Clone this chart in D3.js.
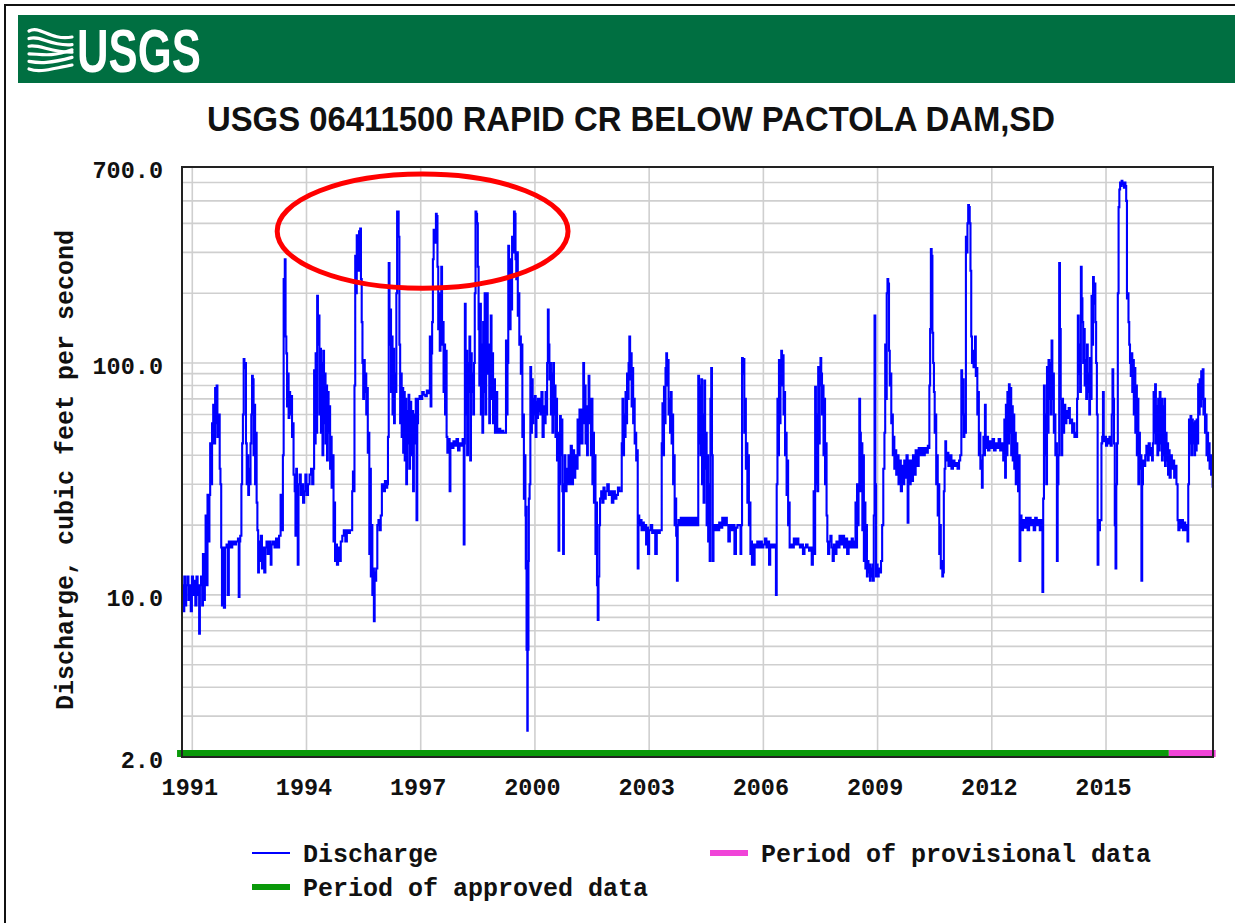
<!DOCTYPE html>
<html>
<head>
<meta charset="utf-8">
<script src="https://cdn.jsdelivr.net/npm/d3@7"></script>
<style>
  body { margin: 0; background: #fff; }
  svg { display: block; }
</style>
</head>
<body>
<script>
// daily discharge (cfs) as [decimal year, value]
const discharge = [
  [1990.74, 11], [1990.76, 8.5], [1990.79, 12], [1990.81, 9], [1990.84, 11], [1990.87, 12], [1990.9, 9.5], [1990.93, 11],
  [1990.96, 8.5], [1990.99, 12], [1991.02, 10], [1991.05, 11.5], [1991.08, 9], [1991.11, 12], [1991.14, 10], [1991.17, 11],
  [1991.18, 6.8], [1991.2, 11], [1991.23, 12], [1991.26, 9], [1991.28, 15], [1991.3, 9.5], [1991.33, 13], [1991.35, 22],
  [1991.37, 11], [1991.4, 27], [1991.42, 17], [1991.45, 27], [1991.47, 45], [1991.5, 30], [1991.52, 55], [1991.55, 66],
  [1991.57, 45], [1991.6, 78], [1991.62, 55], [1991.64, 80], [1991.66, 48], [1991.69, 60], [1991.72, 35], [1991.74, 30],
  [1991.76, 16], [1991.78, 9], [1991.8, 16], [1991.83, 8.8], [1991.86, 16], [1991.9, 16.5], [1991.93, 10], [1991.96, 17],
  [1992.0, 16], [1992.05, 17], [1992.1, 16.5], [1992.15, 17], [1992.2, 17.5], [1992.22, 9.8], [1992.24, 17],
  // 1992-1993
  [1992.26, 18], [1992.29, 30], [1992.31, 45], [1992.33, 60], [1992.35, 104], [1992.37, 95], [1992.39, 100], [1992.41, 45],
  [1992.43, 30], [1992.45, 40], [1992.47, 27], [1992.49, 35], [1992.51, 30], [1992.53, 45], [1992.55, 60], [1992.57, 88],
  [1992.59, 85], [1992.61, 40], [1992.63, 66], [1992.65, 30], [1992.67, 50], [1992.69, 25], [1992.71, 19], [1992.73, 12.5],
  [1992.75, 17], [1992.77, 14], [1992.8, 18], [1992.83, 13], [1992.86, 16], [1992.89, 12.5], [1992.92, 16], [1992.95, 17],
  [1992.98, 15], [1993.02, 17], [1993.06, 13.5], [1993.08, 16.5], [1993.12, 17], [1993.16, 16], [1993.2, 17.5], [1993.24, 16],
  [1993.28, 18], [1993.32, 27], [1993.35, 19], [1993.38, 40], [1993.4, 230], [1993.41, 140], [1993.43, 280], [1993.45, 130],
  [1993.47, 110], [1993.49, 65], [1993.51, 90], [1993.53, 58], [1993.55, 75], [1993.57, 60], [1993.6, 72], [1993.62, 48],
  [1993.64, 55], [1993.66, 33], [1993.69, 28], [1993.71, 18], [1993.73, 35], [1993.75, 27], [1993.77, 13.5], [1993.79, 30],
  [1993.82, 33], [1993.85, 27], [1993.88, 30], [1993.91, 25], [1993.94, 28], [1993.97, 33], [1994.0, 27], [1994.04, 30],
  [1994.08, 33], [1994.12, 35], [1994.15, 30],
  // 1994-1995
  [1994.18, 35], [1994.2, 93], [1994.22, 45], [1994.24, 110], [1994.26, 50], [1994.28, 195], [1994.3, 120], [1994.32, 160],
  [1994.34, 60], [1994.36, 115], [1994.38, 50], [1994.4, 100], [1994.42, 40], [1994.44, 113], [1994.46, 55], [1994.48, 90],
  [1994.5, 45], [1994.52, 80], [1994.54, 38], [1994.56, 75], [1994.58, 50], [1994.6, 65], [1994.62, 35], [1994.64, 48],
  [1994.66, 29], [1994.69, 40], [1994.71, 17], [1994.73, 25], [1994.75, 14], [1994.78, 16.5], [1994.8, 13.5], [1994.83, 16],
  [1994.86, 14], [1994.9, 17], [1994.94, 18], [1994.98, 19], [1995.02, 17], [1995.06, 19], [1995.1, 18.5], [1995.14, 19],
  [1995.18, 19], [1995.2, 28], [1995.22, 34], [1995.24, 28], [1995.26, 80], [1995.28, 290], [1995.3, 200], [1995.32, 355],
  [1995.35, 250], [1995.38, 370], [1995.41, 380], [1995.43, 230], [1995.45, 150], [1995.47, 100], [1995.49, 70], [1995.51, 103],
  [1995.53, 75], [1995.55, 90], [1995.57, 60], [1995.59, 78], [1995.61, 41], [1995.63, 50], [1995.65, 15], [1995.67, 35],
  [1995.69, 12], [1995.71, 20], [1995.73, 10], [1995.75, 13], [1995.77, 7.7], [1995.79, 12.5], [1995.81, 11.5], [1995.83, 13],
  [1995.86, 20], [1995.89, 21], [1995.92, 19], [1995.95, 22], [1995.98, 30], [1996.02, 28], [1996.06, 31], [1996.09, 29],
  // 1996-1997
  [1996.12, 30], [1996.14, 48], [1996.16, 270], [1996.18, 120], [1996.2, 170], [1996.22, 75], [1996.24, 130], [1996.26, 60],
  [1996.28, 115], [1996.3, 55], [1996.32, 90], [1996.34, 75], [1996.36, 200], [1996.38, 450], [1996.4, 450], [1996.42, 350],
  [1996.44, 120], [1996.46, 55], [1996.48, 90], [1996.5, 48], [1996.52, 78], [1996.54, 41], [1996.56, 75], [1996.58, 38],
  [1996.6, 70], [1996.62, 30], [1996.64, 62], [1996.66, 45], [1996.68, 73], [1996.7, 35], [1996.72, 68], [1996.75, 40],
  [1996.78, 62], [1996.8, 28], [1996.82, 60], [1996.84, 45], [1996.87, 70], [1996.89, 21], [1996.91, 55], [1996.93, 70],
  [1996.97, 72], [1997.0, 70], [1997.04, 75], [1997.08, 73], [1997.12, 72], [1997.16, 76], [1997.19, 74],
  [1997.22, 74], [1997.24, 130], [1997.26, 65], [1997.28, 110], [1997.3, 150], [1997.32, 280], [1997.34, 375], [1997.37, 330],
  [1997.4, 440], [1997.42, 430], [1997.44, 260], [1997.46, 140], [1997.48, 200], [1997.5, 113], [1997.52, 200], [1997.54, 260],
  [1997.56, 120], [1997.58, 150], [1997.6, 75], [1997.62, 120], [1997.64, 60], [1997.66, 113], [1997.68, 48], [1997.7, 41],
  [1997.73, 47], [1997.76, 28], [1997.78, 45], [1997.82, 43], [1997.86, 46], [1997.9, 44], [1997.94, 47], [1997.98, 42],
  [1998.02, 45], [1998.06, 44], [1998.1, 47], [1998.13, 16.5], [1998.15, 45],
  // 1998-1999
  [1998.16, 180], [1998.18, 60], [1998.2, 113], [1998.22, 40], [1998.24, 100], [1998.26, 75], [1998.28, 130], [1998.3, 38],
  [1998.32, 110], [1998.34, 75], [1998.36, 90], [1998.38, 60], [1998.4, 100], [1998.42, 200], [1998.44, 450], [1998.46, 440],
  [1998.48, 400], [1998.5, 260], [1998.52, 140], [1998.54, 80], [1998.56, 180], [1998.58, 60], [1998.6, 120], [1998.62, 50],
  [1998.64, 150], [1998.66, 75], [1998.68, 200], [1998.7, 60], [1998.72, 130], [1998.74, 200], [1998.76, 90], [1998.78, 120],
  [1998.8, 55], [1998.82, 100], [1998.84, 160], [1998.86, 70], [1998.88, 110], [1998.9, 55], [1998.92, 85], [1998.95, 50],
  [1998.98, 75], [1999.01, 50], [1999.05, 52], [1999.09, 50], [1999.13, 51], [1999.17, 50], [1999.2, 50],
  [1999.22, 50], [1999.24, 125], [1999.26, 60], [1999.28, 100], [1999.3, 320], [1999.32, 200], [1999.34, 140], [1999.36, 280],
  [1999.38, 170], [1999.4, 350], [1999.42, 300], [1999.45, 450], [1999.47, 440], [1999.49, 280], [1999.51, 230], [1999.53, 300],
  [1999.55, 160], [1999.57, 200], [1999.59, 120], [1999.61, 130], [1999.63, 90], [1999.65, 120], [1999.67, 48], [1999.69, 60],
  [1999.71, 26], [1999.73, 40], [1999.75, 22], [1999.76, 13], [1999.77, 24], [1999.78, 5.8], [1999.79, 13], [1999.8, 2.6],
  [1999.81, 8], [1999.82, 5.8], [1999.83, 14], [1999.84, 26], [1999.86, 30], [1999.88, 96], [1999.9, 50], [1999.92, 85],
  [1999.94, 55], [1999.96, 70], [1999.98, 60], [2000.0, 72], [2000.02, 48], [2000.04, 68], [2000.06, 58], [2000.08, 70],
  [2000.1, 62], [2000.12, 70],
  // 2000-2001
  [2000.14, 60], [2000.17, 75], [2000.2, 48], [2000.23, 65], [2000.26, 55], [2000.28, 75], [2000.3, 60], [2000.32, 100],
  [2000.34, 170], [2000.36, 120], [2000.38, 85], [2000.4, 100], [2000.42, 60], [2000.44, 90], [2000.46, 50], [2000.48, 100],
  [2000.5, 60], [2000.52, 80], [2000.54, 48], [2000.56, 70], [2000.58, 38], [2000.6, 50], [2000.62, 15.5], [2000.64, 30],
  [2000.66, 59], [2000.68, 40], [2000.7, 57], [2000.72, 28], [2000.74, 15], [2000.76, 30], [2000.78, 40], [2000.8, 28],
  [2000.83, 35], [2000.86, 30], [2000.88, 40], [2000.91, 30], [2000.94, 44], [2000.97, 30], [2001.0, 42], [2001.03, 32],
  [2001.06, 40], [2001.09, 35], [2001.12, 57], [2001.14, 40], [2001.17, 63], [2001.2, 45],
  [2001.22, 45], [2001.25, 63], [2001.27, 100], [2001.29, 55], [2001.31, 80], [2001.33, 45], [2001.35, 65], [2001.37, 40],
  [2001.39, 57], [2001.41, 88], [2001.43, 55], [2001.45, 70], [2001.47, 40], [2001.49, 70], [2001.51, 30], [2001.53, 50],
  [2001.55, 25], [2001.57, 40], [2001.59, 15], [2001.61, 25], [2001.63, 11], [2001.65, 7.8], [2001.67, 12], [2001.69, 20],
  [2001.71, 26], [2001.74, 28], [2001.77, 25], [2001.8, 29], [2001.83, 26], [2001.86, 28], [2001.9, 30], [2001.94, 27],
  [2001.98, 28], [2002.02, 25], [2002.06, 28], [2002.1, 26], [2002.14, 27], [2002.18, 29], [2002.22, 28],
  // 2002-2003
  [2002.26, 28], [2002.28, 45], [2002.3, 70], [2002.32, 40], [2002.34, 60], [2002.36, 48], [2002.38, 75], [2002.4, 55],
  [2002.42, 90], [2002.44, 70], [2002.46, 100], [2002.48, 130], [2002.5, 85], [2002.52, 110], [2002.54, 65], [2002.56, 95],
  [2002.58, 55], [2002.6, 70], [2002.62, 45], [2002.64, 50], [2002.66, 38], [2002.68, 42], [2002.7, 13], [2002.72, 22],
  [2002.74, 20], [2002.77, 21], [2002.8, 19], [2002.83, 20.5], [2002.86, 19], [2002.9, 20], [2002.92, 16.5], [2002.94, 19.5],
  [2002.97, 15], [2003.0, 19], [2003.04, 20], [2003.08, 18.5], [2003.12, 19], [2003.16, 15], [2003.2, 19], [2003.24, 18.5],
  [2003.28, 19], [2003.31, 19], [2003.33, 45], [2003.35, 67], [2003.37, 40], [2003.39, 79], [2003.41, 55], [2003.43, 95],
  [2003.45, 110], [2003.47, 80], [2003.49, 103], [2003.51, 60], [2003.53, 70], [2003.55, 50], [2003.57, 75], [2003.59, 45],
  [2003.61, 60], [2003.63, 30], [2003.65, 40], [2003.67, 20], [2003.69, 26], [2003.71, 18], [2003.73, 11.5], [2003.75, 20],
  [2003.77, 21], [2003.8, 20], [2003.83, 21.5], [2003.86, 20], [2003.9, 21.5], [2003.94, 20], [2003.98, 21.5], [2004.02, 20],
  [2004.06, 21.5], [2004.1, 20], [2004.14, 21.5], [2004.18, 20], [2004.22, 21.5], [2004.26, 20],
  // 2004-2005
  [2004.29, 88], [2004.31, 45], [2004.33, 80], [2004.35, 40], [2004.37, 85], [2004.39, 30], [2004.41, 60], [2004.43, 25],
  [2004.45, 84], [2004.47, 35], [2004.49, 50], [2004.51, 20], [2004.53, 40], [2004.55, 17], [2004.57, 30], [2004.59, 14],
  [2004.61, 70], [2004.63, 95], [2004.65, 40], [2004.67, 14], [2004.69, 20], [2004.72, 19], [2004.76, 20], [2004.8, 19],
  [2004.84, 20.5], [2004.88, 19.5], [2004.92, 21.5], [2004.96, 20], [2005.0, 21.5], [2005.04, 20], [2005.08, 17], [2005.12, 20],
  [2005.16, 19], [2005.2, 20], [2005.24, 15], [2005.28, 19.5], [2005.32, 20], [2005.36, 20], [2005.4, 15],
  [2005.42, 20], [2005.44, 105], [2005.46, 90], [2005.48, 104], [2005.5, 50], [2005.52, 70], [2005.54, 35], [2005.56, 45],
  [2005.58, 25], [2005.6, 40], [2005.62, 20], [2005.64, 25], [2005.66, 15], [2005.68, 17], [2005.7, 13.5], [2005.72, 16.5],
  [2005.74, 13.5], [2005.77, 16.5], [2005.8, 16], [2005.84, 17], [2005.88, 16], [2005.92, 17], [2005.96, 16], [2006.0, 16.5],
  [2006.04, 17.5], [2006.08, 16], [2006.12, 17], [2006.15, 13.5], [2006.18, 16.5], [2006.22, 16], [2006.26, 16.5], [2006.3, 16],
  // 2006-2007
  [2006.33, 10], [2006.35, 30], [2006.37, 70], [2006.39, 40], [2006.41, 103], [2006.43, 55], [2006.45, 90], [2006.47, 113],
  [2006.49, 80], [2006.51, 108], [2006.53, 60], [2006.55, 75], [2006.57, 40], [2006.59, 50], [2006.61, 27], [2006.63, 38],
  [2006.65, 20], [2006.67, 25], [2006.69, 16], [2006.72, 16.5], [2006.76, 16], [2006.8, 17.5], [2006.84, 16.5], [2006.88, 17.5],
  [2006.92, 16.5], [2006.96, 16], [2007.0, 16.5], [2007.04, 15], [2007.08, 16], [2007.12, 16.5], [2007.16, 16], [2007.2, 15.5],
  [2007.24, 16], [2007.27, 13.5], [2007.3, 16], [2007.32, 28], [2007.34, 15], [2007.36, 79], [2007.38, 30], [2007.4, 60],
  [2007.42, 28], [2007.44, 96], [2007.46, 45], [2007.48, 80], [2007.5, 105], [2007.52, 90], [2007.54, 60], [2007.56, 80],
  [2007.58, 40], [2007.6, 70], [2007.62, 30], [2007.64, 45], [2007.66, 22], [2007.68, 17], [2007.7, 15], [2007.73, 17],
  [2007.76, 18], [2007.79, 16], [2007.82, 14], [2007.85, 16.5], [2007.88, 15], [2007.92, 17], [2007.96, 16], [2008.0, 18],
  [2008.04, 16.5], [2008.08, 18], [2008.12, 16], [2008.16, 17.5], [2008.2, 15], [2008.24, 17], [2008.28, 16], [2008.32, 17.5],
  [2008.35, 16],
  // 2008-2009
  [2008.38, 16], [2008.4, 17], [2008.42, 25], [2008.44, 16], [2008.46, 30], [2008.48, 20], [2008.5, 28], [2008.52, 70],
  [2008.54, 50], [2008.56, 28], [2008.58, 45], [2008.6, 19], [2008.62, 40], [2008.64, 14], [2008.66, 25], [2008.68, 13],
  [2008.7, 20], [2008.72, 12], [2008.74, 14], [2008.76, 12.5], [2008.78, 13.5], [2008.8, 11.5], [2008.82, 13], [2008.84, 12],
  [2008.86, 13.5], [2008.88, 11.5], [2008.9, 22], [2008.92, 160], [2008.94, 30], [2008.96, 12], [2008.98, 13.5], [2009.0, 12],
  [2009.03, 13], [2009.06, 12.5], [2009.09, 14], [2009.12, 20], [2009.15, 35], [2009.18, 50], [2009.2, 120], [2009.22, 70],
  [2009.24, 200], [2009.26, 230], [2009.28, 220], [2009.3, 113], [2009.32, 80], [2009.34, 90], [2009.36, 55], [2009.38, 60],
  [2009.4, 40], [2009.42, 48], [2009.44, 35], [2009.46, 42], [2009.49, 33], [2009.52, 40], [2009.55, 30], [2009.58, 38],
  [2009.61, 28], [2009.64, 36], [2009.67, 30], [2009.7, 38], [2009.73, 32], [2009.76, 40], [2009.79, 20.5], [2009.81, 38],
  [2009.84, 30], [2009.87, 38], [2009.9, 31], [2009.93, 40], [2009.96, 33], [2010.0, 42], [2010.04, 36], [2010.08, 43],
  [2010.12, 40], [2010.16, 43], [2010.2, 40], [2010.24, 43], [2010.28, 41], [2010.32, 44],
  // 2010-2011
  [2010.34, 43], [2010.36, 80], [2010.38, 140], [2010.4, 310], [2010.42, 290], [2010.44, 135], [2010.46, 100], [2010.48, 75],
  [2010.5, 50], [2010.52, 60], [2010.54, 30], [2010.56, 40], [2010.58, 22], [2010.6, 30], [2010.62, 15], [2010.64, 20],
  [2010.66, 13], [2010.68, 14], [2010.7, 12], [2010.72, 12.5], [2010.74, 28], [2010.76, 35], [2010.78, 46], [2010.8, 38],
  [2010.83, 41], [2010.86, 36], [2010.9, 40], [2010.94, 35], [2010.98, 38], [2011.02, 36], [2011.06, 37], [2011.1, 35],
  [2011.14, 38], [2011.17, 40], [2011.2, 93], [2011.22, 60], [2011.24, 85], [2011.26, 48], [2011.28, 60], [2011.3, 50],
  [2011.32, 350], [2011.34, 300], [2011.36, 400], [2011.38, 480], [2011.4, 470], [2011.42, 400], [2011.44, 250], [2011.46, 130],
  [2011.48, 100], [2011.5, 113], [2011.52, 96], [2011.54, 110], [2011.56, 130], [2011.58, 88], [2011.6, 95], [2011.62, 60],
  [2011.64, 75], [2011.66, 40], [2011.68, 50], [2011.7, 35], [2011.72, 38], [2011.74, 29], [2011.76, 40],
  [2011.78, 48], [2011.8, 40], [2011.82, 66], [2011.84, 43], [2011.87, 48], [2011.9, 42], [2011.94, 46], [2011.98, 43],
  [2012.02, 47], [2012.06, 42], [2012.1, 45], [2012.14, 43], [2012.18, 47], [2012.22, 42], [2012.26, 45], [2012.3, 38],
  [2012.33, 57], [2012.35, 32], [2012.37, 66], [2012.39, 40], [2012.41, 75], [2012.43, 45], [2012.45, 81], [2012.47, 50],
  [2012.49, 78], [2012.51, 40], [2012.53, 65], [2012.55, 38], [2012.57, 60], [2012.59, 35], [2012.61, 50], [2012.63, 30],
  [2012.65, 45], [2012.67, 35], [2012.69, 28], [2012.71, 40], [2012.73, 14], [2012.75, 22], [2012.78, 19], [2012.82, 21],
  [2012.86, 19.5], [2012.9, 21.5], [2012.94, 19], [2012.98, 21.5], [2013.02, 20], [2013.06, 21], [2013.1, 19], [2013.14, 21.5],
  [2013.18, 20], [2013.22, 21], [2013.26, 19], [2013.3, 21],
  // 2013-2014
  [2013.33, 10.3], [2013.35, 26], [2013.37, 80], [2013.39, 40], [2013.41, 60], [2013.43, 30], [2013.45, 96], [2013.47, 50],
  [2013.49, 103], [2013.51, 70], [2013.53, 100], [2013.55, 60], [2013.57, 125], [2013.59, 70], [2013.61, 90], [2013.63, 50],
  [2013.65, 60], [2013.67, 40], [2013.69, 45], [2013.71, 14], [2013.73, 30], [2013.75, 40], [2013.77, 270], [2013.79, 140],
  [2013.81, 70], [2013.83, 40], [2013.85, 70], [2013.87, 50], [2013.9, 66], [2013.93, 55], [2013.96, 62], [2013.99, 58],
  [2014.02, 64], [2014.05, 55], [2014.08, 57], [2014.11, 50], [2014.14, 55], [2014.17, 48],
  [2014.2, 50], [2014.22, 48], [2014.24, 70], [2014.26, 160], [2014.28, 90], [2014.3, 120], [2014.32, 75], [2014.34, 260],
  [2014.36, 190], [2014.38, 150], [2014.4, 100], [2014.42, 140], [2014.44, 80], [2014.46, 103], [2014.48, 70], [2014.5, 120],
  [2014.52, 75], [2014.54, 90], [2014.56, 60], [2014.58, 105], [2014.6, 70], [2014.62, 195], [2014.64, 120], [2014.66, 235],
  [2014.68, 180], [2014.7, 220], [2014.72, 150], [2014.74, 100], [2014.76, 60], [2014.78, 13.5], [2014.8, 21], [2014.82, 19],
  [2014.84, 21],
  // 2015-2017
  [2014.88, 45], [2014.9, 48], [2014.92, 75], [2014.94, 46], [2014.97, 48], [2015.0, 44], [2015.03, 47], [2015.06, 45],
  [2015.09, 48], [2015.12, 44], [2015.15, 60], [2015.17, 94], [2015.19, 70], [2015.21, 45], [2015.23, 20], [2015.25, 13],
  [2015.27, 30], [2015.29, 45], [2015.31, 200], [2015.33, 470], [2015.35, 560], [2015.37, 600], [2015.39, 580], [2015.41, 610],
  [2015.43, 590], [2015.45, 600], [2015.47, 570], [2015.49, 600], [2015.51, 580], [2015.53, 500], [2015.55, 190], [2015.57, 200],
  [2015.59, 150], [2015.61, 120], [2015.63, 100], [2015.65, 88], [2015.67, 110], [2015.69, 75], [2015.71, 103], [2015.73, 60],
  [2015.75, 95], [2015.77, 50], [2015.79, 80], [2015.81, 40], [2015.83, 70], [2015.85, 30], [2015.87, 50], [2015.89, 35],
  [2015.91, 40], [2015.93, 11.5], [2015.95, 30], [2015.97, 38], [2016.0, 36], [2016.03, 40], [2016.06, 44], [2016.09, 38],
  [2016.12, 45], [2016.15, 40], [2016.18, 43], [2016.21, 38], [2016.23, 45], [2016.25, 75], [2016.27, 50], [2016.29, 81],
  [2016.31, 45], [2016.33, 65], [2016.35, 40], [2016.37, 70], [2016.39, 42], [2016.41, 75], [2016.43, 45], [2016.45, 70],
  [2016.47, 38], [2016.49, 65], [2016.51, 40], [2016.53, 70], [2016.55, 36], [2016.57, 50], [2016.59, 38], [2016.61, 45],
  [2016.63, 33], [2016.65, 42], [2016.67, 32], [2016.7, 40], [2016.73, 35], [2016.76, 38], [2016.79, 32], [2016.82, 36],
  [2016.85, 30], [2016.88, 21], [2016.9, 19], [2016.93, 21], [2016.96, 19.5], [2016.99, 21], [2017.02, 19], [2017.05, 20.5],
  [2017.08, 19], [2017.11, 20], [2017.14, 17], [2017.16, 30], [2017.18, 57], [2017.2, 45], [2017.22, 59], [2017.24, 40],
  [2017.26, 57], [2017.28, 45], [2017.3, 55], [2017.32, 40], [2017.34, 56], [2017.36, 42], [2017.38, 57], [2017.4, 45],
  [2017.42, 81], [2017.44, 60], [2017.46, 85], [2017.48, 65], [2017.5, 92], [2017.52, 70], [2017.54, 94], [2017.56, 60],
  [2017.58, 70], [2017.6, 50], [2017.62, 60], [2017.64, 40], [2017.66, 50], [2017.68, 38], [2017.7, 45], [2017.72, 35],
  [2017.74, 40], [2017.76, 33], [2017.78, 36], [2017.8, 29]
];

const yearDomain = [1990.73, 2017.81];
const approvedPeriod = [1990.6, 2016.65];
const provisionalPeriod = [2016.65, 2017.88];
const yTickValues = [2, 10, 100, 700];
const yGridValues = [3, 4, 5, 6, 7, 8, 9, 10, 20, 30, 40, 50, 60, 70, 80, 90, 100, 200, 300, 400, 500, 600];
const xTickValues = [1991, 1994, 1997, 2000, 2003, 2006, 2009, 2012, 2015];
// years / discharge range circled in red on the original
const circledYears = [1993.23, 2000.87];
const circledValues = [210, 653];

const titleText = "USGS 06411500 RAPID CR BELOW PACTOLA DAM,SD";
const yLabel = "Discharge, cubic feet per second";

const width = 1235;
const height = 923;
const plot = { left: 182, right: 1213, top: 167, bottom: 757 };
const mono = "'Liberation Mono', 'DejaVu Sans Mono', monospace";
const narrow = "'Liberation Sans Narrow', 'Arial Narrow', 'Liberation Sans', sans-serif";

const svg = d3.select("body").append("svg")
    .attr("width", width)
    .attr("height", height)
    .attr("viewBox", [0, 0, width, height]);

// page frame
svg.append("path")
    .attr("d", `M5,${height} V5 H${width}`)
    .attr("fill", "none")
    .attr("stroke", "#111")
    .attr("stroke-width", 2);

// USGS banner
svg.append("rect")
    .attr("x", 18).attr("y", 15)
    .attr("width", width - 18).attr("height", 68)
    .attr("fill", "#006f41");

const logo = svg.append("g")
    .attr("fill", "none")
    .attr("stroke", "#fff")
    .attr("stroke-width", 3.2)
    .attr("stroke-linecap", "round");
[0, 1, 2, 3, 4, 5].forEach(i => {
  const y0 = 31 + i * 7.6;
  logo.append("path")
      .attr("d", `M29,${y0} C40,${y0 - 6 + i * 2} 50,${y0 + 10 - i * 2} 72,${y0 + (i < 3 ? 6 : -4)}`);
});

svg.append("text")
    .attr("x", 77).attr("y", 72)
    .attr("font-family", narrow)
    .attr("font-weight", "bold")
    .attr("font-size", 61)
    .attr("textLength", 124)
    .attr("lengthAdjust", "spacingAndGlyphs")
    .attr("fill", "#fff")
    .text("USGS");

svg.append("text")
    .attr("x", 631).attr("y", 131)
    .attr("text-anchor", "middle")
    .attr("font-family", narrow)
    .attr("font-weight", "bold")
    .attr("font-size", 35)
    .attr("textLength", 848)
    .attr("lengthAdjust", "spacingAndGlyphs")
    .attr("fill", "#111")
    .text(titleText);

// scales
const x = d3.scaleLinear().domain(yearDomain).range([plot.left, plot.right]);
const y = d3.scaleLog().domain([2, 700]).range([plot.bottom, plot.top]);

// grid
const grid = svg.append("g")
    .attr("stroke", "#cfcfcf")
    .attr("stroke-width", 1.6);

grid.selectAll(".hg")
  .data(yGridValues)
  .join("line")
    .attr("x1", plot.left).attr("x2", plot.right)
    .attr("y1", d => y(d)).attr("y2", d => y(d));

grid.selectAll(".vg")
  .data(xTickValues)
  .join("line")
    .attr("x1", d => x(d)).attr("x2", d => x(d))
    .attr("y1", plot.top).attr("y2", plot.bottom);

// discharge line
svg.append("clipPath").attr("id", "plot-clip")
  .append("rect")
    .attr("x", plot.left).attr("y", plot.top)
    .attr("width", plot.right - plot.left).attr("height", plot.bottom - plot.top);

const line = d3.line()
    .x(d => x(d[0]))
    .y(d => y(d[1]))
    .curve(d3.curveStepAfter);

svg.append("path")
    .datum(discharge)
    .attr("clip-path", "url(#plot-clip)")
    .attr("fill", "none")
    .attr("stroke", "#0000ff")
    .attr("stroke-width", 2.1)
    .attr("d", line);

// period bars along the bottom
svg.append("rect")
    .attr("x", x(approvedPeriod[0]))
    .attr("y", plot.bottom - 7)
    .attr("width", x(approvedPeriod[1]) - x(approvedPeriod[0]))
    .attr("height", 7)
    .attr("fill", "#0a990a");

svg.append("rect")
    .attr("x", x(provisionalPeriod[0]))
    .attr("y", plot.bottom - 7)
    .attr("width", x(provisionalPeriod[1]) - x(provisionalPeriod[0]))
    .attr("height", 7)
    .attr("fill", "#f044d8");

// plot border
svg.append("rect")
    .attr("x", plot.left).attr("y", plot.top)
    .attr("width", plot.right - plot.left).attr("height", plot.bottom - plot.top)
    .attr("fill", "none")
    .attr("stroke", "#222")
    .attr("stroke-width", 2);

// axes
const yAxis = svg.append("g")
    .attr("transform", `translate(${plot.left},0)`)
    .call(d3.axisLeft(y).tickValues(yTickValues).tickFormat(d3.format(".1f")).tickSize(0).tickPadding(19));

const xAxis = svg.append("g")
    .attr("transform", `translate(0,${plot.bottom})`)
    .call(d3.axisBottom(x).tickValues(xTickValues).tickFormat(d3.format("d")).tickSize(0).tickPadding(21));

[yAxis, xAxis].forEach(g => {
  g.select(".domain").remove();
  g.selectAll("text")
      .attr("font-family", mono)
      .attr("font-weight", "bold")
      .attr("font-size", 23.5)
      .attr("fill", "#111");
});
yAxis.selectAll("text").attr("dy", "0.45em");
xAxis.selectAll("text").attr("dx", -3);

svg.append("text")
    .attr("transform", `translate(73,${(plot.top + plot.bottom) / 2 + 8}) rotate(-90)`)
    .attr("text-anchor", "middle")
    .attr("font-family", mono)
    .attr("font-weight", "bold")
    .attr("font-size", 25)
    .attr("fill", "#111")
    .text(yLabel);

// red ellipse around the late-1990s peaks
svg.append("ellipse")
    .attr("cx", (x(circledYears[0]) + x(circledYears[1])) / 2)
    .attr("cy", (y(circledValues[0]) + y(circledValues[1])) / 2)
    .attr("rx", (x(circledYears[1]) - x(circledYears[0])) / 2)
    .attr("ry", (y(circledValues[0]) - y(circledValues[1])) / 2)
    .attr("fill", "none")
    .attr("stroke", "#ff0000")
    .attr("stroke-width", 5);

// legend
const legendItems = [
  { label: "Discharge", kind: "line", color: "#0000ff", lx: 252, ly: 853 },
  { label: "Period of approved data", kind: "bar", color: "#0a990a", lx: 252, ly: 887 },
  { label: "Period of provisional data", kind: "bar", color: "#f044d8", lx: 710, ly: 853 }
];

const legend = svg.append("g")
  .selectAll("g")
  .data(legendItems)
  .join("g")
    .attr("transform", d => `translate(${d.lx},${d.ly})`);

legend.append("rect")
    .attr("x", 0)
    .attr("y", d => d.kind === "line" ? -1 : -3)
    .attr("width", 38)
    .attr("height", d => d.kind === "line" ? 2 : 6)
    .attr("fill", d => d.color);

legend.append("text")
    .attr("x", 51)
    .attr("y", 9)
    .attr("font-family", mono)
    .attr("font-weight", "bold")
    .attr("font-size", 25)
    .attr("fill", "#111")
    .text(d => d.label);
</script>
</body>
</html>
